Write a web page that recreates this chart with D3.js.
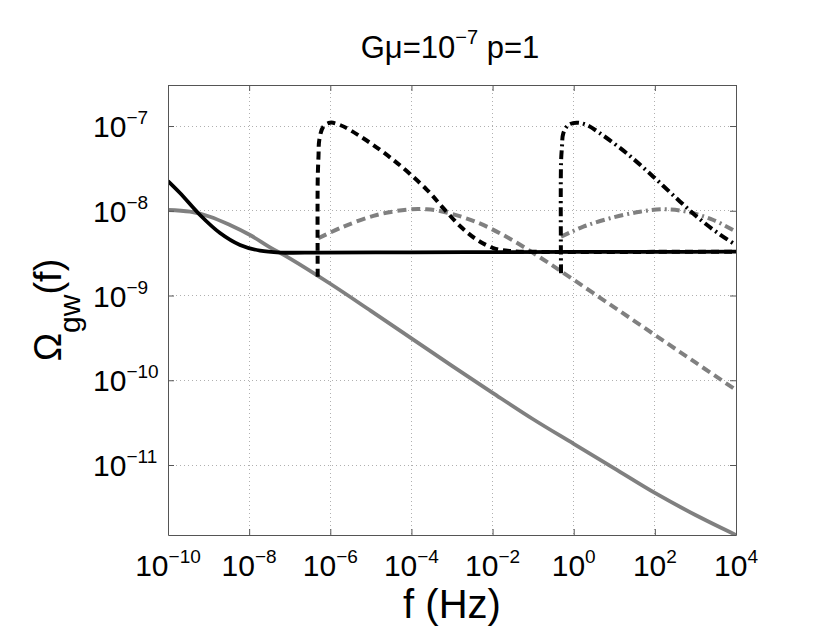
<!DOCTYPE html>
<html><head><meta charset="utf-8">
<script src="https://cdn.jsdelivr.net/npm/d3@7"></script>
<style>
body{margin:0;background:#fff}
text{font-family:"Liberation Sans",Arial,Helvetica,sans-serif;fill:#000}
</style>
</head><body>
<svg id="chart" width="830" height="642"></svg>
<script>
// ---- tick labels (exponents of 10) ----
const xTickExps = [-10, -8, -6, -4, -2, 0, 2, 4];
const yTickExps = [-7, -8, -9, -10, -11];

// ---- series, stored as log10(f) and log10(Omega_gw) ----
const graySolidLogF  = [-10.0, -9.458, -8.965, -8.472, -7.979, -7.486, -7.0, -6.0, -5.0, -4.0, -3.0, -2.0, -1.0, 0.0, 1.0, 2.0, 3.0, 4.0];
const graySolidLogO  = [-7.991, -8.011, -8.070, -8.168, -8.286, -8.431, -8.561, -8.861, -9.181, -9.505, -9.830, -10.148, -10.460, -10.750, -11.040, -11.330, -11.590, -11.826];

const blackSolidLogF = [-10.0, -9.704, -9.211, -8.718, -8.225, -7.732, -7.239, -6.254, -4.0, -2.0, 0.0, 2.0, 4.0];
const blackSolidLogO = [-7.650, -7.791, -8.050, -8.263, -8.404, -8.471, -8.493, -8.493, -8.490, -8.488, -8.486, -8.485, -8.483];

const blackDashedLogF = [-6.310, -6.310, -6.290, -6.271, -6.172, -6.007, -5.761, -5.268, -4.447, -3.624, -3.214, -2.803, -2.391, -1.982, -1.572, -1.0, 0.0, 2.0, 4.0];
const blackDashedLogO = [-8.778, -7.637, -7.350, -7.165, -7.008, -6.961, -6.988, -7.120, -7.400, -7.750, -7.970, -8.180, -8.340, -8.440, -8.475, -8.484, -8.486, -8.485, -8.483];

const grayDashedLogF = [-6.295, -5.679, -4.856, -4.035, -3.624, -3.214, -2.391, -1.572, -0.751, 0.0, 1.0, 2.0, 3.0, 4.0];
const grayDashedLogO = [-8.325, -8.188, -8.050, -7.983, -7.983, -8.011, -8.135, -8.330, -8.575, -8.815, -9.140, -9.465, -9.790, -10.115];

const blackDashDotLogF = [-0.313, -0.313, -0.290, -0.257, -0.133, 0.073, 0.320, 0.648, 1.306, 1.961, 2.617, 3.110, 3.603, 4.0];
const blackDashDotLogO = [-8.738, -7.440, -7.250, -7.086, -6.988, -6.961, -6.988, -7.086, -7.322, -7.598, -7.890, -8.100, -8.280, -8.404];

const grayDashDotLogF = [-0.313, 0.237, 0.895, 1.634, 2.208, 2.785, 3.441, 4.0];
const grayDashDotLogO = [-8.306, -8.188, -8.089, -8.011, -7.983, -8.011, -8.109, -8.247];

// ---- layout ----
const L = 168, R = 736, T = 85, B = 535;
const svg = d3.select("#chart");

const x = d3.scaleLog().domain([1e-10, 1e4]).range([L, R]);
const y = d3.scaleLog().domain([Math.pow(10, -11.826), Math.pow(10, -6.516)]).range([B, T]);

const xTicks = xTickExps.map(e => Math.pow(10, e));
const yTicks = yTickExps.map(e => Math.pow(10, e));

// grid
const grid = svg.append("g").attr("class", "grid");
grid.selectAll("line.gx").data(xTicks.slice(1, -1)).join("line")
  .attr("x1", d => x(d)).attr("x2", d => x(d)).attr("y1", T).attr("y2", B);
grid.selectAll("line.gy").data(yTicks).enter().append("line")
  .attr("x1", L).attr("x2", R).attr("y1", d => y(d)).attr("y2", d => y(d));
grid.selectAll("line").attr("stroke", "#b0b0b0").attr("stroke-width", 1)
  .attr("stroke-dasharray", "1,3").attr("shape-rendering", "crispEdges");

// clip
svg.append("clipPath").attr("id", "clip").append("rect")
  .attr("x", L).attr("y", T).attr("width", R - L).attr("height", B - T);

const line = d3.line()
  .x(d => x(d[0])).y(d => y(d[1]))
  .curve(d3.curveCatmullRom.alpha(0.5));

function series(lf, lo) {
  return d3.zip(lf, lo).map(([a, b]) => [Math.pow(10, a), Math.pow(10, b)]);
}

const plot = svg.append("g").attr("clip-path", "url(#clip)");
const specs = [
  {f: graySolidLogF, o: graySolidLogO, c: "#808080", w: 3.8, dash: null},
  {f: grayDashedLogF, o: grayDashedLogO, c: "#808080", w: 4, dash: "9,5"},
  {f: grayDashDotLogF, o: grayDashDotLogO, c: "#808080", w: 4, dash: "9,4,2,4"},
  {f: blackSolidLogF, o: blackSolidLogO, c: "#000", w: 3.8, dash: null},
  {f: blackDashedLogF, o: blackDashedLogO, c: "#000", w: 4, dash: "8,5"},
  {f: blackDashDotLogF, o: blackDashDotLogO, c: "#000", w: 4, dash: "9,4,2,4"}
];
specs.forEach(s => {
  plot.append("path").datum(series(s.f, s.o))
    .attr("d", line).attr("fill", "none")
    .attr("stroke", s.c).attr("stroke-width", s.w)
    .attr("stroke-dasharray", s.dash);
});

// axes (inward ticks on all four sides)
const axColor = "#555";
function styleAxis(g) {
  g.selectAll("path.domain").attr("stroke", axColor);
  g.selectAll(".tick line").attr("stroke", axColor);
  g.selectAll(".tick text").remove();
}
svg.append("g").attr("transform", `translate(0,${B})`)
  .call(d3.axisBottom(x).tickValues(xTicks).tickSizeInner(-6).tickSizeOuter(0).tickFormat(() => "")).call(styleAxis);
svg.append("g").attr("transform", `translate(0,${T})`)
  .call(d3.axisTop(x).tickValues(xTicks).tickSizeInner(-6).tickSizeOuter(0).tickFormat(() => "")).call(styleAxis);
svg.append("g").attr("transform", `translate(${L},0)`)
  .call(d3.axisLeft(y).tickValues(yTicks).tickSizeInner(-6).tickSizeOuter(0).tickFormat(() => "")).call(styleAxis);
svg.append("g").attr("transform", `translate(${R},0)`)
  .call(d3.axisRight(y).tickValues(yTicks).tickSizeInner(-6).tickSizeOuter(0).tickFormat(() => "")).call(styleAxis);

const expStr = e => (e < 0 ? "\u2212" + Math.abs(e) : String(e));

// x tick labels
const xl = svg.append("g").selectAll("text").data(xTickExps).join("text")
  .attr("x", d => x(Math.pow(10, d))).attr("y", 576)
  .attr("text-anchor", "middle").style("font-size", "30px");
xl.append("tspan").text("10");
xl.append("tspan").attr("dy", -13).style("font-size", "19px").text(d => expStr(d));

// y tick labels
const yl = svg.append("g").selectAll("text").data(yTickExps).join("text")
  .attr("x", 93).attr("y", d => y(Math.pow(10, d)) + 11)
  .attr("text-anchor", "start").style("font-size", "30px");
yl.append("tspan").text("10");
yl.append("tspan").attr("dy", -13).style("font-size", "19px").text(d => expStr(d));

// x axis label
svg.append("text").attr("x", (L + R) / 2).attr("y", 618)
  .attr("text-anchor", "middle").style("font-size", "40px").text("f (Hz)");

// y axis label
const yt = svg.append("text")
  .attr("transform", `translate(61,${(T + B) / 2}) rotate(-90)`)
  .attr("text-anchor", "middle").style("font-size", "38px");
yt.append("tspan").text("\u03A9");
yt.append("tspan").attr("dy", 19).style("font-size", "30px").text("gw");
yt.append("tspan").attr("dy", -19).text("(f)");

// title
const tt = svg.append("text").attr("x", (L + R) / 2 - 2).attr("y", 58)
  .attr("text-anchor", "middle").style("font-size", "31px");
tt.append("tspan").text("G\u03BC=10");
tt.append("tspan").attr("dy", -14).style("font-size", "20px").text("\u22127");
tt.append("tspan").attr("dy", 14).text(" p=1");
</script>
</body></html>
